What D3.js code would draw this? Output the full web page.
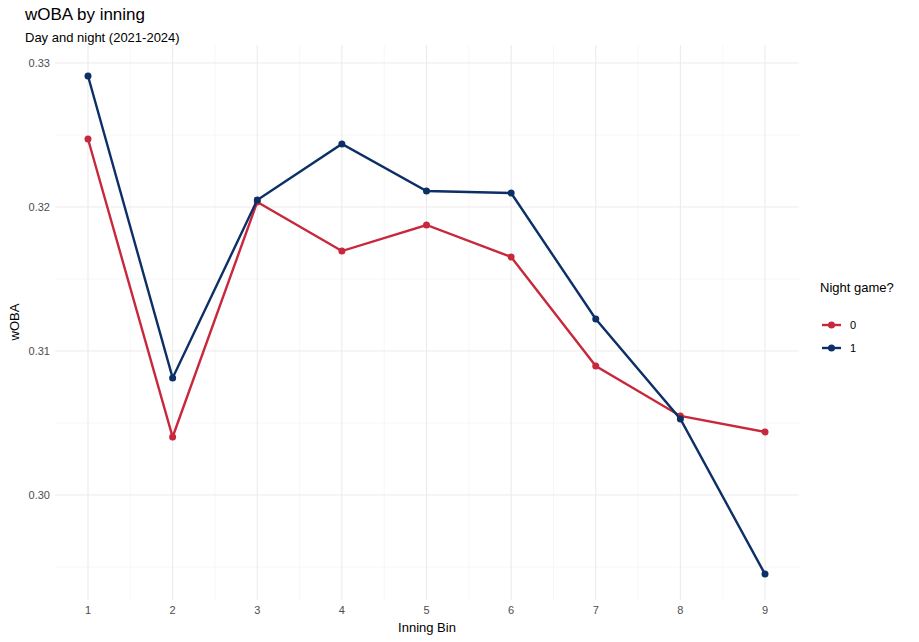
<!DOCTYPE html>
<html><head><meta charset="utf-8">
<script src="https://cdn.jsdelivr.net/npm/d3@7"></script>
<style>body{margin:0;background:#fff;font-family:"Liberation Sans",Arial,sans-serif}</style>
</head><body><svg id="c" width="919" height="642"></svg>
<script>
const innings=[1,2,3,4,5,6,7,8,9];
const day=[0.32472,0.30403,0.32035,0.31694,0.31875,0.31653,0.30896,0.30549,0.30438];
const night=[0.3291,0.30813,0.32049,0.32438,0.32111,0.32097,0.31222,0.30528,0.29451];
const yTicks=[0.30,0.31,0.32,0.33];
const series=[{name:"0",vals:day,color:"#c8283c"},{name:"1",vals:night,color:"#0c2f66"}];
const svg=d3.select("#c");
const x=d3.scaleLinear().domain([1,9]).range([88,765]);
const y=d3.scaleLinear().domain([0.30,0.33]).range([495,63]);
const L=55,R=799,T=45,B=600;
const g=svg.append("g");
// minor grid
const xMinor=d3.range(0.5,9.6,1), yMinor=d3.range(0.295,0.3351,0.01);
xMinor.forEach(v=>{const p=x(v);if(p>=L&&p<=R)g.append("line").attr("x1",p).attr("x2",p).attr("y1",T).attr("y2",B).attr("stroke","#f2f2f2").attr("stroke-width",0.6)});
yMinor.forEach(v=>{const p=y(v);if(p>=T&&p<=B)g.append("line").attr("x1",L).attr("x2",R).attr("y1",p).attr("y2",p).attr("stroke","#f2f2f2").attr("stroke-width",0.6)});
innings.forEach(v=>g.append("line").attr("x1",x(v)).attr("x2",x(v)).attr("y1",T).attr("y2",B).attr("stroke","#ebebeb").attr("stroke-width",1.1));
yTicks.forEach(v=>g.append("line").attr("x1",L).attr("x2",R).attr("y1",y(v)).attr("y2",y(v)).attr("stroke","#ebebeb").attr("stroke-width",1.1));
innings.forEach(v=>g.append("text").attr("x",x(v)).attr("y",614).attr("text-anchor","middle").attr("font-size",11).attr("fill","#4d4d4d").text(v));
yTicks.forEach(v=>g.append("text").attr("x",50).attr("y",y(v)+4).attr("text-anchor","end").attr("font-size",11).attr("fill","#4d4d4d").text(v.toFixed(2)));
const line=d3.line().x((d,i)=>x(innings[i])).y(d=>y(d));
series.forEach(s=>{
 g.append("path").attr("d",line(s.vals)).attr("fill","none").attr("stroke",s.color).attr("stroke-width",2.4);
 s.vals.forEach((v,i)=>g.append("circle").attr("cx",x(innings[i])).attr("cy",y(v)).attr("r",3.5).attr("fill",s.color));
});
svg.append("text").attr("x",25).attr("y",20).attr("font-size",17).text("wOBA by inning");
svg.append("text").attr("x",25).attr("y",42).attr("font-size",13).text("Day and night (2021-2024)");
svg.append("text").attr("x",427).attr("y",632).attr("text-anchor","middle").attr("font-size",13).text("Inning Bin");
svg.append("text").attr("transform","translate(19,322) rotate(-90)").attr("text-anchor","middle").attr("font-size",13).text("wOBA");
svg.append("text").attr("x",820).attr("y",292).attr("font-size",13).text("Night game?");
series.forEach((s,i)=>{const yy=325+i*23;
 svg.append("line").attr("x1",822).attr("x2",841).attr("y1",yy).attr("y2",yy).attr("stroke",s.color).attr("stroke-width",2.4);
 svg.append("circle").attr("cx",831.5).attr("cy",yy).attr("r",3.5).attr("fill",s.color);
 svg.append("text").attr("x",850).attr("y",yy+4).attr("font-size",11).text(s.name);});
</script></body></html>
